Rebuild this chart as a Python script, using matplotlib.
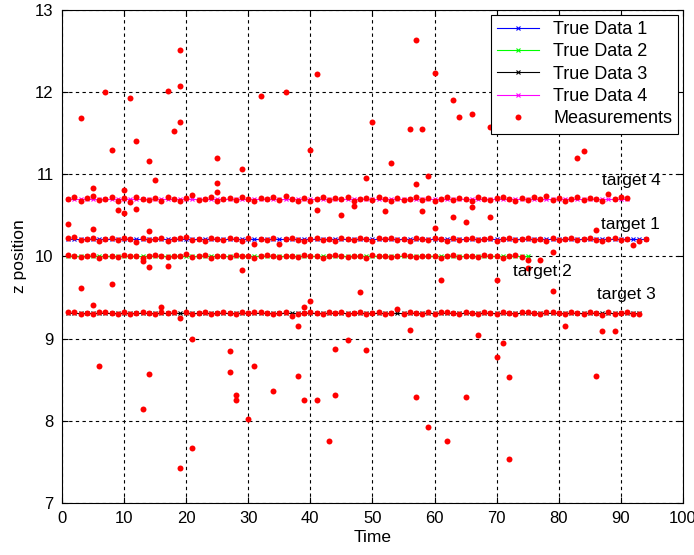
import numpy as np
import matplotlib
matplotlib.use('Agg')
import matplotlib.pyplot as plt

plt.rcParams['font.family'] = ['Liberation Sans', 'DejaVu Sans']

# true target heights and last time step of each track
true_z = [10.21, 10.00, 9.31, 10.70]
true_end = [94, 75, 93, 91]
true_colors = ['#0000ff', '#00ff00', '#000000', '#ff00ff']
true_names = ['True Data 1', 'True Data 2', 'True Data 3', 'True Data 4']
labels = ['target 1', 'target 2', 'target 3', 'target 4']
label_xy = [(86.8, 10.30), (72.6, 9.73), (86.2, 9.45), (87.0, 10.83)]

# measurements close to each track (one per time step)
meas_1 = [10.22,10.24,10.20,10.21,10.23,10.19,10.21,10.22,10.20,10.23,
          10.21,10.18,10.22,10.20,10.21,10.23,10.19,10.21,10.22,10.24,
          10.20,10.21,10.19,10.22,10.21,10.20,10.23,10.21,10.19,10.22,
          10.15,10.21,10.20,10.22,10.15,10.21,10.23,10.20,10.19,10.21,
          10.22,10.20,10.21,10.19,10.23,10.21,10.20,10.22,10.21,10.19,
          10.22,10.21,10.23,10.20,10.21,10.19,10.22,10.21,10.20,10.23,
          10.21,10.19,10.22,10.20,10.21,10.23,10.20,10.21,10.22,10.19,
          10.21,10.22,10.20,10.21,10.23,10.20,10.21,10.19,10.22,10.20,
          10.21,10.23,10.20,10.21,10.22,10.20,10.19,10.21,10.22,10.20,
          10.21,10.14,10.19,10.21]
meas_2 = [10.02,10.01,9.99,10.00,10.02,9.98,10.01,10.00,9.99,10.02,
          10.00,10.01,9.98,10.00,10.02,10.01,9.99,10.00,10.01,10.03,
          9.99,10.00,10.02,9.98,10.01,10.00,9.99,10.02,10.00,10.01,
          9.98,10.00,10.02,10.01,9.99,10.00,10.01,9.99,10.02,10.00,
          10.01,9.98,10.00,10.02,10.01,9.99,10.00,10.01,9.98,10.02,
          10.00,10.01,9.99,10.00,10.02,10.01,9.99,10.00,10.01,10.00,
          9.98,10.01,10.02,9.99,10.00,10.01,9.99,10.02,10.00,10.01,
          9.98,10.00,10.02,9.99,9.96]
meas_3 = [9.32,9.33,9.30,9.31,9.30,9.32,9.33,9.31,9.30,9.32,
          9.30,9.31,9.33,9.31,9.30,9.32,9.31,9.33,9.25,9.33,
          9.30,9.31,9.32,9.30,9.31,9.33,9.31,9.30,9.32,9.31,
          9.33,9.32,9.31,9.30,9.31,9.32,9.28,9.30,9.31,9.32,
          9.31,9.30,9.32,9.31,9.33,9.30,9.31,9.32,9.30,9.31,
          9.32,9.30,9.31,9.36,9.30,9.32,9.31,9.30,9.32,9.30,
          9.33,9.33,9.31,9.30,9.32,9.31,9.30,9.32,9.31,9.30,
          9.32,9.31,9.30,9.32,9.33,9.31,9.30,9.32,9.33,9.31,
          9.30,9.32,9.31,9.30,9.32,9.31,9.29,9.32,9.30,9.31,
          9.32,9.30,9.30]
meas_4 = [10.70,10.72,10.68,10.71,10.74,10.69,10.70,10.72,10.68,10.71,
          10.66,10.73,10.70,10.69,10.71,10.68,10.72,10.70,10.67,10.71,
          10.75,10.69,10.70,10.72,10.68,10.70,10.71,10.69,10.73,10.70,
          10.68,10.71,10.70,10.72,10.69,10.74,10.70,10.68,10.71,10.67,
          10.70,10.72,10.69,10.71,10.70,10.73,10.68,10.70,10.71,10.69,
          10.72,10.70,10.68,10.71,10.69,10.70,10.73,10.69,10.71,10.68,
          10.70,10.72,10.69,10.71,10.70,10.68,10.72,10.70,10.69,10.71,
          10.73,10.70,10.68,10.71,10.69,10.72,10.70,10.74,10.69,10.71,
          10.68,10.70,10.72,10.69,10.71,10.70,10.68,10.76,10.70,10.72,
          10.71]

# clutter measurements
clutter_t = [19,7,11,17,19,3,41,32,36,
             8,12,18,19,14,25,29,40,50,
             15,25,25,49,5,10,9,10,12,
             45,47,41,1,5,14,
             13,14,17,29,
             3,8,5,16,48,40,39,38,21,46,
             27,44,49,6,31,14,27,38,34,28,
             28,39,41,44,13,30,43,21,19,
             57,60,63,64,66,69,56,58,53,
             83,84,59,57,52,58,63,65,66,
             69,60,86,79,75,77,
             61,70,79,56,81,87,89,67,71,70,
             72,86,57,65,59,62,72]
clutter_z = [12.51,12.00,11.93,12.02,12.08,11.69,12.22,11.95,12.00,
             11.29,11.41,11.53,11.64,11.16,11.20,11.07,11.29,11.64,
             10.93,10.90,10.78,10.95,10.83,10.81,10.57,10.53,10.58,
             10.50,10.62,10.57,10.39,10.34,10.31,
             9.94,9.87,9.88,9.84,
             9.62,9.66,9.41,9.39,9.57,9.46,9.39,9.16,9.00,8.98,
             8.85,8.88,8.86,8.67,8.67,8.57,8.59,8.55,8.36,8.31,
             8.25,8.25,8.25,8.32,8.15,8.02,7.75,7.67,7.43,
             12.63,12.23,11.91,11.70,11.74,11.57,11.55,11.55,11.14,
             11.20,11.28,10.98,10.88,10.55,10.55,10.48,10.42,10.60,
             10.48,10.35,10.32,10.06,9.86,9.96,
             9.71,9.71,9.58,9.11,9.16,9.09,9.09,9.04,8.95,8.78,
             8.53,8.55,8.29,8.29,7.92,7.76,7.53]

fig = plt.figure(figsize=(6.94, 5.55), dpi=100)
ax = fig.add_axes([0.0893, 0.0937, 0.8948, 0.8883])

for z, end, c, name in zip(true_z, true_end, true_colors, true_names):
    t = np.arange(1, end + 1)
    ax.plot(t, np.full(len(t), z), '-', color=c, marker='x', ms=3.5, mew=0.8,
            lw=0.8, label=name)

meas_t, meas_z = [], []
for m in [meas_1, meas_2, meas_3, meas_4]:
    meas_t += list(range(1, len(m) + 1))
    meas_z += m
meas_t += clutter_t
meas_z += clutter_z
ax.plot(meas_t, meas_z, 'o', color='#ff0000', ms=4.3, mew=0, ls='none',
        label='Measurements')

for txt, (x, y) in zip(labels, label_xy):
    ax.text(x, y, txt, fontsize=12.5, va='bottom', ha='left')

ax.set_xlim(0, 100)
ax.set_ylim(7, 13)
ax.set_xticks(range(0, 101, 10))
ax.set_yticks(range(7, 14))
ax.tick_params(direction='in', top=True, right=True, labelsize=12, length=4,
               pad=6)
ax.grid(True, color='black', ls=(0, (3, 3)), lw=0.8)
for s in ax.spines.values():
    s.set_linewidth(0.8)
ax.set_xlabel('Time', fontsize=12.5, labelpad=3)
ax.set_ylabel('z position', fontsize=12.5, labelpad=6)

leg = ax.legend(loc='upper right', fontsize=13, fancybox=False, framealpha=1,
                edgecolor='black', handlelength=2.3, borderaxespad=0.25,
                labelspacing=0.3, borderpad=0.35, handletextpad=0.8)
leg.get_frame().set_linewidth(0.8)

fig.savefig('out.png', dpi=100)
